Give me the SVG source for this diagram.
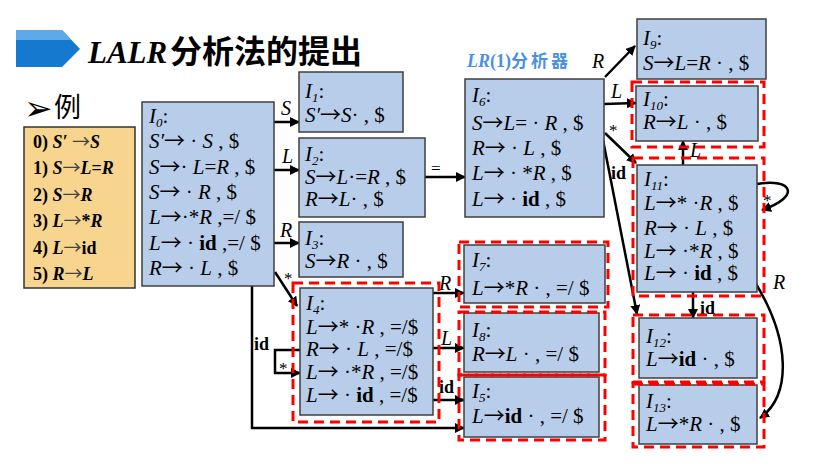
<svg xmlns="http://www.w3.org/2000/svg" width="814" height="470" viewBox="0 0 814 470">
<style>
.box{fill:#b8cde9;stroke:#3f3f3f;stroke-width:1.5}
.red{fill:none;stroke:#ff0000;stroke-width:3;stroke-dasharray:10 6}
.tx{font-family:"Liberation Serif",serif;font-size:21px;fill:#000}
.g{font-family:"Liberation Serif",serif;font-size:18px;font-weight:bold;fill:#000}
.i{font-style:italic}
.b{font-weight:bold}
.ar{font-family:"Noto Sans CJK SC",sans-serif;font-weight:normal;font-style:normal}
.sub{font-size:13px;font-style:italic}
.ln{fill:none;stroke:#000;stroke-width:2.5}
.lb{font-family:"Liberation Serif",serif;font-size:20px;font-style:italic;fill:#000}
.lid{font-family:"Liberation Serif",serif;font-size:18px;font-weight:bold;fill:#000}
.ls{font-family:"Liberation Serif",serif;font-size:17px;fill:#000}
</style>
<defs>
<marker id="ah" viewBox="0 0 10 10" refX="9" refY="5" markerWidth="4" markerHeight="4" orient="auto" markerUnits="strokeWidth">
<path d="M0,0 L10,5 L0,10 z" fill="#000"/>
</marker>
</defs>
<rect width="814" height="470" fill="#fff"/>

<g id="title">
<polygon points="16,30 62,30 80,49 62,67 16,67" fill="#1579cf"/>
<polygon points="16,30 62,30 71,40 16,40" fill="#5ea9e8"/>
<text x="88" y="63" font-family="Liberation Serif,serif" font-size="31" font-weight="bold" font-style="italic">LALR</text>
<text x="170" y="63" font-family="Noto Sans CJK SC,sans-serif" font-size="32" font-weight="bold">分析法的提出</text>
</g>
<g id="example">
<text x="24" y="120" font-family="DejaVu Sans,sans-serif" font-size="34">➢</text>
<text x="54" y="117" font-family="Noto Sans CJK SC,sans-serif" font-size="27">例</text>
</g>
<g id="lr1label">
<text x="467" y="67" font-family="Liberation Serif,serif" font-size="18" font-weight="bold" fill="#4a90e2"><tspan font-style="italic">LR</tspan>(1)<tspan font-family="Noto Sans CJK SC,sans-serif" font-size="17" letter-spacing="3">分析器</tspan></text>
</g>

<g id="grammar">
<rect x="24" y="127" width="111" height="161" fill="#f8d58e" stroke="#333" stroke-width="1.5"/>
<text class="g" x="33" y="148">0) <tspan class="i">S′</tspan> <tspan class="ar" fill="#444">→</tspan><tspan class="i">S</tspan></text>
<text class="g" x="33" y="174">1) <tspan class="i">S</tspan><tspan class="ar" fill="#444">→</tspan><tspan class="i">L</tspan>=<tspan class="i">R</tspan></text>
<text class="g" x="33" y="201">2) <tspan class="i">S</tspan><tspan class="ar" fill="#444">→</tspan><tspan class="i">R</tspan></text>
<text class="g" x="33" y="227">3) <tspan class="i">L</tspan><tspan class="ar" fill="#444">→</tspan>*<tspan class="i">R</tspan></text>
<text class="g" x="33" y="254">4) <tspan class="i">L</tspan><tspan class="ar" fill="#444">→</tspan>id</text>
<text class="g" x="33" y="280">5) <tspan class="i">R</tspan><tspan class="ar" fill="#444">→</tspan><tspan class="i">L</tspan></text>
</g>

<g id="connectors">
<line class="ln" x1="274" y1="122" x2="299" y2="122" marker-end="url(#ah)"/>
<line class="ln" x1="274" y1="170" x2="299" y2="170" marker-end="url(#ah)"/>
<line class="ln" x1="274" y1="243" x2="299" y2="243" marker-end="url(#ah)"/>
<line class="ln" x1="425" y1="177" x2="465" y2="177" marker-end="url(#ah)"/>
<line class="ln" x1="275" y1="272" x2="297" y2="306" marker-end="url(#ah)"/>
<path class="ln" d="M252,286 V428 H464" marker-end="url(#ah)"/>
<path class="ln" d="M300,350 H275 V373 H300" marker-end="url(#ah)"/>
<line class="ln" x1="433" y1="293" x2="464" y2="293" marker-end="url(#ah)"/>
<line class="ln" x1="433" y1="348" x2="464" y2="348" marker-end="url(#ah)"/>
<line class="ln" x1="433" y1="400" x2="464" y2="400" marker-end="url(#ah)"/>
<line class="ln" x1="605" y1="77" x2="635" y2="46" marker-end="url(#ah)"/>
<line class="ln" x1="604" y1="104" x2="636" y2="103" marker-end="url(#ah)"/>
<line class="ln" x1="605" y1="133" x2="636" y2="163" marker-end="url(#ah)"/>
<line class="ln" x1="603" y1="140" x2="637" y2="314" marker-end="url(#ah)"/>
<line class="ln" x1="683" y1="165" x2="683" y2="141" marker-end="url(#ah)"/>
<line class="ln" x1="693" y1="292" x2="693" y2="318" marker-end="url(#ah)"/>
<path class="ln" d="M757,184 C792,178 802,196 762,210" marker-end="url(#ah)"/>
<path class="ln" d="M756,284 C790,340 792,395 760,418" marker-end="url(#ah)"/>
<text class="lb" x="281" y="115">S</text>
<text class="lb" x="282" y="163">L</text>
<text class="lb" x="280" y="237">R</text>
<text class="ls" x="431" y="174">=</text>
<text class="ls" x="284" y="284">*</text>
<text class="lid" x="254" y="350">id</text>
<text class="ls" x="279" y="374">*</text>
<text class="lb" x="439" y="290">R</text>
<text class="lb" x="441" y="345">L</text>
<text class="lid" x="439" y="393">id</text>
<text class="lb" x="592" y="68">R</text>
<text class="lb" x="611" y="98">L</text>
<text class="ls" x="609" y="136">*</text>
<text class="lid" x="611" y="179">id</text>
<text class="lb" x="690" y="157">L</text>
<text class="ls" x="763" y="206">*</text>
<text class="lb" x="773" y="289">R</text>
<text class="lid" x="700" y="314">id</text>
</g>

<g id="I0">
<rect class="box" x="142" y="102" width="132" height="184"/>
<text class="tx" x="149" y="123"><tspan class="i">I</tspan><tspan class="sub" dy="4">0</tspan><tspan dy="-4">:</tspan></text>
<text class="tx" x="149" y="148"><tspan class="i">S′</tspan><tspan class="ar">→</tspan> · <tspan class="i">S</tspan> , $</text>
<text class="tx" x="149" y="174"><tspan class="i">S</tspan><tspan class="ar">→</tspan>· <tspan class="i">L</tspan>=<tspan class="i">R</tspan> , $</text>
<text class="tx" x="149" y="199"><tspan class="i">S</tspan><tspan class="ar">→</tspan> · <tspan class="i">R</tspan> , $</text>
<text class="tx" x="149" y="224"><tspan class="i">L</tspan><tspan class="ar">→</tspan>·*<tspan class="i">R</tspan> ,=/ $</text>
<text class="tx" x="149" y="250"><tspan class="i">L</tspan><tspan class="ar">→</tspan> · <tspan class="b">id</tspan> ,=/ $</text>
<text class="tx" x="149" y="275"><tspan class="i">R</tspan><tspan class="ar">→</tspan> · <tspan class="i">L</tspan> , $</text>
</g>
<g id="I1">
<rect class="box" x="299" y="72" width="104" height="60"/>
<text class="tx" x="305" y="98"><tspan class="i">I</tspan><tspan class="sub" dy="4">1</tspan><tspan dy="-4">:</tspan></text>
<text class="tx" x="305" y="122"><tspan class="i">S′</tspan><tspan class="ar">→</tspan><tspan class="i">S</tspan>· , $</text>
</g>
<g id="I2">
<rect class="box" x="299" y="138" width="126" height="79"/>
<text class="tx" x="305" y="161"><tspan class="i">I</tspan><tspan class="sub" dy="4">2</tspan><tspan dy="-4">:</tspan></text>
<text class="tx" x="305" y="184"><tspan class="i">S</tspan><tspan class="ar">→</tspan><tspan class="i">L</tspan>·=<tspan class="i">R</tspan> , $</text>
<text class="tx" x="305" y="206"><tspan class="i">R</tspan><tspan class="ar">→</tspan><tspan class="i">L</tspan>· , $</text>
</g>
<g id="I3">
<rect class="box" x="299" y="222" width="104" height="55"/>
<text class="tx" x="305" y="245"><tspan class="i">I</tspan><tspan class="sub" dy="4">3</tspan><tspan dy="-4">:</tspan></text>
<text class="tx" x="305" y="268"><tspan class="i">S</tspan><tspan class="ar">→</tspan><tspan class="i">R</tspan> · , $</text>
</g>
<g id="I4">
<rect class="box" x="300" y="288" width="133" height="127"/>
<rect class="red" x="293" y="283" width="146" height="139"/>
<text class="tx" x="306" y="310"><tspan class="i">I</tspan><tspan class="sub" dy="4">4</tspan><tspan dy="-4">:</tspan></text>
<text class="tx" x="306" y="334"><tspan class="i">L</tspan><tspan class="ar">→</tspan>* ·<tspan class="i">R</tspan> , =/$</text>
<text class="tx" x="306" y="356"><tspan class="i">R</tspan><tspan class="ar">→</tspan> · <tspan class="i">L</tspan> , =/$</text>
<text class="tx" x="306" y="379"><tspan class="i">L</tspan><tspan class="ar">→</tspan> ·*<tspan class="i">R</tspan> , =/$</text>
<text class="tx" x="306" y="402"><tspan class="i">L</tspan><tspan class="ar">→</tspan> · <tspan class="b">id</tspan> , =/$</text>
</g>
<g id="I5">
<rect class="box" x="464" y="377" width="135" height="60"/>
<rect class="red" x="459" y="375" width="146" height="65"/>
<text class="tx" x="472" y="398"><tspan class="i">I</tspan><tspan class="sub" dy="4">5</tspan><tspan dy="-4">:</tspan></text>
<text class="tx" x="472" y="423"><tspan class="i">L</tspan><tspan class="ar">→</tspan><tspan class="b">id</tspan> · , =/ $</text>
</g>
<g id="I6">
<rect class="box" x="465" y="79" width="139" height="138"/>
<text class="tx" x="472" y="102"><tspan class="i">I</tspan><tspan class="sub" dy="4">6</tspan><tspan dy="-4">:</tspan></text>
<text class="tx" x="472" y="130"><tspan class="i">S</tspan><tspan class="ar">→</tspan><tspan class="i">L</tspan>= · <tspan class="i">R</tspan> , $</text>
<text class="tx" x="472" y="155"><tspan class="i">R</tspan><tspan class="ar">→</tspan> · <tspan class="i">L</tspan> , $</text>
<text class="tx" x="472" y="180"><tspan class="i">L</tspan><tspan class="ar">→</tspan> · *<tspan class="i">R</tspan> , $</text>
<text class="tx" x="472" y="206"><tspan class="i">L</tspan><tspan class="ar">→</tspan> · <tspan class="b">id</tspan> , $</text>
</g>
<g id="I7">
<rect class="box" x="464" y="245" width="141" height="58"/>
<rect class="red" x="459" y="242" width="149" height="65"/>
<text class="tx" x="472" y="267"><tspan class="i">I</tspan><tspan class="sub" dy="4">7</tspan><tspan dy="-4">:</tspan></text>
<text class="tx" x="472" y="295"><tspan class="i">L</tspan><tspan class="ar">→</tspan>*<tspan class="i">R</tspan> · , =/ $</text>
</g>
<g id="I8">
<rect class="box" x="464" y="313" width="135" height="59"/>
<rect class="red" x="459" y="312" width="146" height="63"/>
<text class="tx" x="472" y="337"><tspan class="i">I</tspan><tspan class="sub" dy="4">8</tspan><tspan dy="-4">:</tspan></text>
<text class="tx" x="472" y="361"><tspan class="i">R</tspan><tspan class="ar">→</tspan><tspan class="i">L</tspan> · , =/ $</text>
</g>
<g id="I9">
<rect class="box" x="637" y="19" width="129" height="60"/>
<text class="tx" x="643" y="45"><tspan class="i">I</tspan><tspan class="sub" dy="4">9</tspan><tspan dy="-4">:</tspan></text>
<text class="tx" x="643" y="70"><tspan class="i">S</tspan><tspan class="ar">→</tspan><tspan class="i">L</tspan>=<tspan class="i">R</tspan> · , $</text>
</g>
<g id="I10">
<rect class="box" x="636" y="86" width="122" height="55"/>
<rect class="red" x="632" y="82" width="132" height="65"/>
<text class="tx" x="643" y="106"><tspan class="i">I</tspan><tspan class="sub" dy="4">10</tspan><tspan dy="-4">:</tspan></text>
<text class="tx" x="643" y="129"><tspan class="i">R</tspan><tspan class="ar">→</tspan><tspan class="i">L</tspan> · , $</text>
</g>
<g id="I11">
<rect class="box" x="637" y="165" width="120" height="127"/>
<rect class="red" x="633" y="158" width="131" height="138"/>
<text class="tx" x="644" y="186"><tspan class="i">I</tspan><tspan class="sub" dy="4">11</tspan><tspan dy="-4">:</tspan></text>
<text class="tx" x="644" y="210"><tspan class="i">L</tspan><tspan class="ar">→</tspan>* ·<tspan class="i">R</tspan> , $</text>
<text class="tx" x="644" y="235"><tspan class="i">R</tspan><tspan class="ar">→</tspan> · <tspan class="i">L</tspan> , $</text>
<text class="tx" x="644" y="258"><tspan class="i">L</tspan><tspan class="ar">→</tspan> ·*<tspan class="i">R</tspan> , $</text>
<text class="tx" x="644" y="280"><tspan class="i">L</tspan><tspan class="ar">→</tspan> · <tspan class="b">id</tspan> , $</text>
</g>
<g id="I12">
<rect class="box" x="639" y="318" width="118" height="60"/>
<rect class="red" x="633" y="315" width="131" height="67"/>
<text class="tx" x="646" y="343"><tspan class="i">I</tspan><tspan class="sub" dy="4">12</tspan><tspan dy="-4">:</tspan></text>
<text class="tx" x="646" y="366"><tspan class="i">L</tspan><tspan class="ar">→</tspan><tspan class="b">id</tspan> · , $</text>
</g>
<g id="I13">
<rect class="box" x="639" y="385" width="118" height="59"/>
<rect class="red" x="633" y="384" width="131" height="63"/>
<text class="tx" x="646" y="408"><tspan class="i">I</tspan><tspan class="sub" dy="4">13</tspan><tspan dy="-4">:</tspan></text>
<text class="tx" x="646" y="431"><tspan class="i">L</tspan><tspan class="ar">→</tspan>*<tspan class="i">R</tspan> · , $</text>
</g>
</svg>
